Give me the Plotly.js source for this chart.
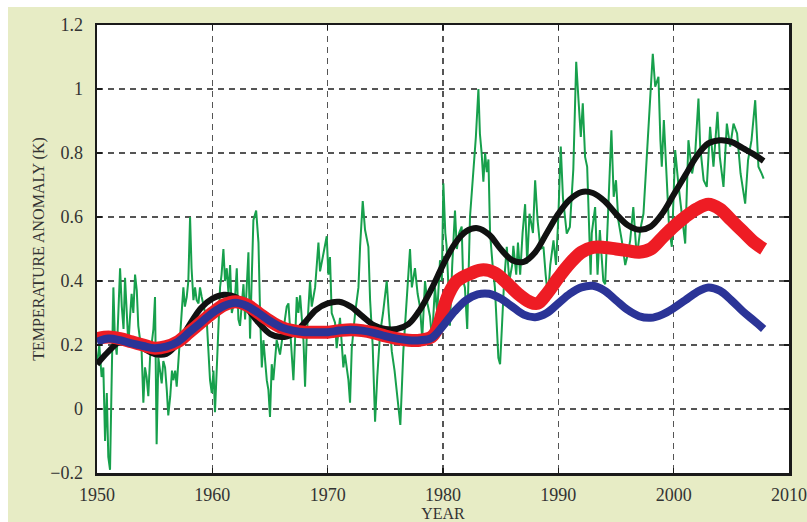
<!DOCTYPE html>
<html>
<head>
<meta charset="utf-8">
<script src="https://cdn.plot.ly/plotly-3.0.1.min.js"></script>
<style>html,body{margin:0;padding:0;background:#fff;}#chart{width:807px;height:522px;}</style>
</head>
<body>
<div id="chart"></div>
<script>
// Observed monthly-ish anomaly (green)
const greenYear = [1950.0,1950.2,1950.4,1950.55,1950.7,1950.85,1950.98,1951.13,1951.25,1951.42,1951.55,1951.71,1951.85,1952.0,1952.15,1952.3,1952.43,1952.6,1952.72,1952.85,1953.0,1953.15,1953.3,1953.45,1953.58,1953.72,1953.87,1954.02,1954.16,1954.3,1954.45,1954.6,1954.75,1954.89,1955.03,1955.17,1955.32,1955.45,1955.61,1955.75,1955.9,1956.05,1956.18,1956.35,1956.5,1956.62,1956.78,1956.91,1957.05,1957.2,1957.35,1957.49,1957.62,1957.78,1957.92,1958.07,1958.2,1958.36,1958.5,1958.64,1958.8,1958.93,1959.08,1959.22,1959.38,1959.51,1959.65,1959.8,1959.95,1960.1,1960.23,1960.4,1960.55,1960.67,1960.8,1960.96,1961.1,1961.25,1961.4,1961.54,1961.69,1961.97,1962.12,1962.26,1962.4,1962.7,1962.84,1963.13,1963.27,1963.42,1963.56,1963.8,1964.0,1964.14,1964.29,1964.43,1964.72,1964.86,1965.0,1965.15,1965.29,1965.58,1965.87,1966.16,1966.45,1966.6,1966.74,1967.03,1967.17,1967.32,1967.46,1967.61,1967.9,1968.04,1968.18,1968.47,1968.62,1968.91,1969.2,1969.34,1969.63,1969.92,1970.06,1970.2,1970.35,1970.64,1970.78,1971.07,1971.36,1971.5,1971.8,1971.94,1972.09,1972.38,1972.67,1972.81,1973.04,1973.24,1973.53,1973.68,1973.9,1974.11,1974.3,1974.54,1974.8,1975.12,1975.3,1975.56,1975.8,1976.0,1976.3,1976.56,1976.8,1977.14,1977.3,1977.57,1977.8,1978.0,1978.2,1978.44,1978.65,1978.87,1979.05,1979.3,1979.5,1979.74,1979.9,1980.03,1980.2,1980.31,1980.45,1980.6,1980.8,1981.04,1981.2,1981.4,1981.62,1981.75,1981.9,1982.1,1982.34,1982.5,1982.6,1982.85,1983.07,1983.2,1983.35,1983.5,1983.65,1983.8,1983.94,1984.08,1984.3,1984.5,1984.8,1984.95,1985.1,1985.3,1985.53,1985.75,1986.0,1986.1,1986.35,1986.5,1986.69,1986.9,1987.12,1987.3,1987.5,1987.8,1987.99,1988.2,1988.45,1988.71,1988.9,1989.1,1989.3,1989.58,1989.8,1990.0,1990.21,1990.4,1990.73,1991.0,1991.3,1991.55,1991.75,1991.95,1992.12,1992.32,1992.5,1992.8,1992.9,1993.19,1993.4,1993.6,1993.9,1994.06,1994.3,1994.6,1994.8,1995.0,1995.2,1995.5,1995.8,1996.0,1996.23,1996.5,1996.8,1997.1,1997.38,1997.6,1997.81,1998.0,1998.19,1998.4,1998.68,1998.85,1998.97,1999.15,1999.3,1999.4,1999.6,1999.84,2000.13,2000.4,2000.71,2001.0,2001.28,2001.6,2001.85,2002.15,2002.3,2002.6,2002.87,2003.16,2003.45,2003.8,2004.0,2004.32,2004.61,2004.9,2005.19,2005.5,2005.8,2006.2,2006.45,2006.75,2007.07,2007.35,2007.64,2007.8];
const greenTemp = [0.14,0.20,0.10,0.13,-0.10,0.05,-0.15,-0.19,0.05,0.38,0.22,0.17,0.30,0.44,0.32,0.25,0.41,0.30,0.20,0.28,0.36,0.30,0.42,0.37,0.26,0.22,0.18,0.02,0.13,0.10,0.04,0.16,0.20,0.25,0.35,-0.11,0.16,0.12,0.08,0.15,0.13,0.06,-0.02,0.04,0.12,0.09,0.12,0.07,0.15,0.25,0.33,0.38,0.32,0.35,0.40,0.60,0.44,0.34,0.38,0.34,0.33,0.38,0.35,0.32,0.30,0.28,0.20,0.09,0.05,0.12,-0.01,0.15,0.28,0.38,0.42,0.50,0.40,0.44,0.36,0.45,0.30,0.35,0.44,0.28,0.26,0.39,0.28,0.49,0.22,0.465,0.59,0.62,0.52,0.30,0.13,0.215,0.09,0.06,-0.025,0.14,0.09,0.215,0.17,0.246,0.32,0.33,0.246,0.09,0.215,0.35,0.30,0.355,0.215,0.07,0.225,0.40,0.32,0.38,0.52,0.43,0.485,0.54,0.42,0.475,0.30,0.27,0.19,0.285,0.13,0.17,0.09,0.02,0.19,0.30,0.38,0.507,0.65,0.56,0.507,0.34,0.20,-0.04,0.10,0.235,0.30,0.40,0.30,0.18,0.12,0.05,-0.05,0.18,0.30,0.50,0.38,0.44,0.36,0.32,0.22,0.40,0.33,0.29,0.22,0.38,0.30,0.465,0.40,0.705,0.55,0.51,0.40,0.26,0.45,0.62,0.50,0.55,0.57,0.40,0.38,0.25,0.60,0.68,0.725,0.85,1.0,0.86,0.80,0.71,0.80,0.74,0.78,0.55,0.45,0.38,0.16,0.14,0.25,0.40,0.507,0.40,0.45,0.51,0.42,0.52,0.42,0.55,0.64,0.455,0.61,0.55,0.715,0.59,0.50,0.507,0.42,0.35,0.45,0.527,0.45,0.60,0.82,0.66,0.548,0.569,0.75,1.085,0.965,0.85,0.955,0.788,0.757,0.42,0.55,0.631,0.42,0.559,0.40,0.39,0.60,0.871,0.663,0.715,0.59,0.527,0.45,0.48,0.527,0.631,0.475,0.559,0.61,0.736,0.892,0.965,1.11,1.007,1.038,0.84,0.757,0.903,0.788,0.694,0.569,0.507,0.809,0.705,0.61,0.517,0.84,0.736,0.788,0.97,0.82,0.715,0.694,0.882,0.757,0.929,0.788,0.694,0.892,0.82,0.892,0.861,0.736,0.642,0.778,0.84,0.965,0.757,0.735,0.72];

// Smooth curves
const blackYear = [1950,1951,1952,1953,1954,1955,1956,1957,1958,1959,1960,1961,1962,1963,1964,1965,1966,1967,1968,1969,1970,1971,1972,1973,1974,1975,1976,1977,1978,1979,1980,1981,1982,1983,1984,1985,1986,1987,1988,1989,1990,1991,1992,1993,1994,1995,1996,1997,1998,1999,2000,2001,2002,2003,2004,2005,2006,2007,2007.8];
const blackTemp = [0.14,0.18,0.21,0.21,0.19,0.172,0.172,0.205,0.262,0.315,0.345,0.357,0.35,0.315,0.27,0.235,0.225,0.235,0.27,0.31,0.33,0.335,0.32,0.29,0.262,0.25,0.25,0.265,0.31,0.375,0.45,0.515,0.555,0.565,0.545,0.5,0.465,0.46,0.49,0.55,0.61,0.655,0.678,0.675,0.65,0.61,0.575,0.56,0.57,0.61,0.67,0.73,0.79,0.83,0.84,0.835,0.815,0.795,0.775];

const redYear = [1950,1951,1952,1953,1954,1955,1956,1957,1958,1959,1960,1961,1962,1963,1964,1965,1966,1967,1968,1969,1970,1971,1972,1973,1974,1975,1976,1977,1978,1979,1979.5,1980,1980.5,1981.2,1982.5,1983.5,1984.5,1985.5,1986.5,1987.5,1988.2,1989,1990,1991,1992,1993,1994,1995,1996,1997,1998,1999,2000,2001,2002,2003,2004,2005,2006,2007,2007.8];
const redTemp = [0.22,0.225,0.22,0.21,0.2,0.19,0.195,0.21,0.24,0.27,0.3,0.325,0.335,0.325,0.3,0.275,0.255,0.245,0.24,0.24,0.24,0.245,0.248,0.245,0.238,0.228,0.22,0.215,0.215,0.225,0.25,0.31,0.36,0.40,0.425,0.435,0.425,0.395,0.36,0.335,0.33,0.36,0.41,0.455,0.49,0.505,0.505,0.5,0.495,0.49,0.5,0.535,0.57,0.6,0.625,0.64,0.625,0.59,0.555,0.52,0.5];

const blueYear = [1950,1951,1952,1953,1954,1955,1956,1957,1958,1959,1960,1961,1962,1963,1964,1965,1966,1967,1968,1969,1970,1971,1972,1973,1974,1975,1976,1977,1978,1979,1980,1981,1982,1983,1984,1985,1986,1987,1988,1989,1990,1991,1992,1993,1994,1995,1996,1997,1998,1999,2000,2001,2002,2003,2004,2005,2006,2007,2007.8];
const blueTemp = [0.21,0.22,0.215,0.205,0.197,0.19,0.195,0.21,0.24,0.27,0.3,0.322,0.332,0.322,0.3,0.275,0.255,0.245,0.24,0.24,0.24,0.245,0.248,0.245,0.238,0.228,0.22,0.215,0.215,0.222,0.26,0.305,0.34,0.358,0.36,0.345,0.32,0.295,0.287,0.3,0.33,0.36,0.38,0.385,0.37,0.34,0.31,0.29,0.285,0.295,0.315,0.34,0.365,0.38,0.37,0.34,0.305,0.275,0.25];

const xTickVals = [1950,1960,1970,1980,1990,2000,2010];
const yTickVals = [-0.2,0,0.2,0.4,0.6,0.8,1,1.2];

const traces = [
  {x: greenYear, y: greenTemp, mode: 'lines', line: {color: '#17a04c', width: 2}, hoverinfo: 'skip'},
  {x: blackYear, y: blackTemp, mode: 'lines', line: {color: '#111111', width: 6, shape: 'spline'}, hoverinfo: 'skip'},
  {x: redYear, y: redTemp, mode: 'lines', line: {color: '#ee1c24', width: 13, shape: 'spline'}, hoverinfo: 'skip'},
  {x: blueYear, y: blueTemp, mode: 'lines', line: {color: '#2b3497', width: 8, shape: 'spline'}, hoverinfo: 'skip'}
];

const serif = 'Liberation Serif, Times New Roman, serif';
const axisCommon = {
  showline: true, linecolor: '#1a1a1a', linewidth: 2.5, mirror: 'ticks',
  ticks: 'inside', ticklen: 5, tickwidth: 1.5, tickcolor: '#1a1a1a',
  showgrid: true, gridcolor: '#555555', gridwidth: 1.2, griddash: '6px,5px',
  zeroline: false, tickfont: {family: serif, size: 18, color: '#333333'}
};

const layout = {
  width: 807, height: 522,
  margin: {l: 97, r: 18, t: 25, b: 49, pad: 0},
  paper_bgcolor: '#ffffff', plot_bgcolor: 'rgba(0,0,0,0)',
  showlegend: false,
  xaxis: Object.assign({}, axisCommon, {
    range: [1950, 2010], tickvals: xTickVals, ticklabelstandoff: 4,
    title: {text: 'YEAR', font: {family: serif, size: 16, color: '#333333'}, standoff: 2}
  }),
  yaxis: Object.assign({}, axisCommon, {
    range: [-0.2, 1.2], tickvals: yTickVals, ticklabelstandoff: 8,
    title: {text: 'TEMPERATURE ANOMALY (K)', font: {family: serif, size: 16, color: '#333333'}, standoff: 2}
  }),
  shapes: [
    {type: 'rect', xref: 'paper', yref: 'paper', x0: -0.1286, x1: 1.03, y0: -0.12, y1: 1.04, fillcolor: '#e7ecc5', line: {width: 0}, layer: 'below'},
    {type: 'rect', xref: 'paper', yref: 'paper', x0: 0, x1: 1, y0: 0, y1: 1, fillcolor: '#ffffff', line: {width: 0}, layer: 'below'}
  ]
};

Plotly.newPlot('chart', traces, layout, {staticPlot: true, displayModeBar: false});
</script>
</body>
</html>
